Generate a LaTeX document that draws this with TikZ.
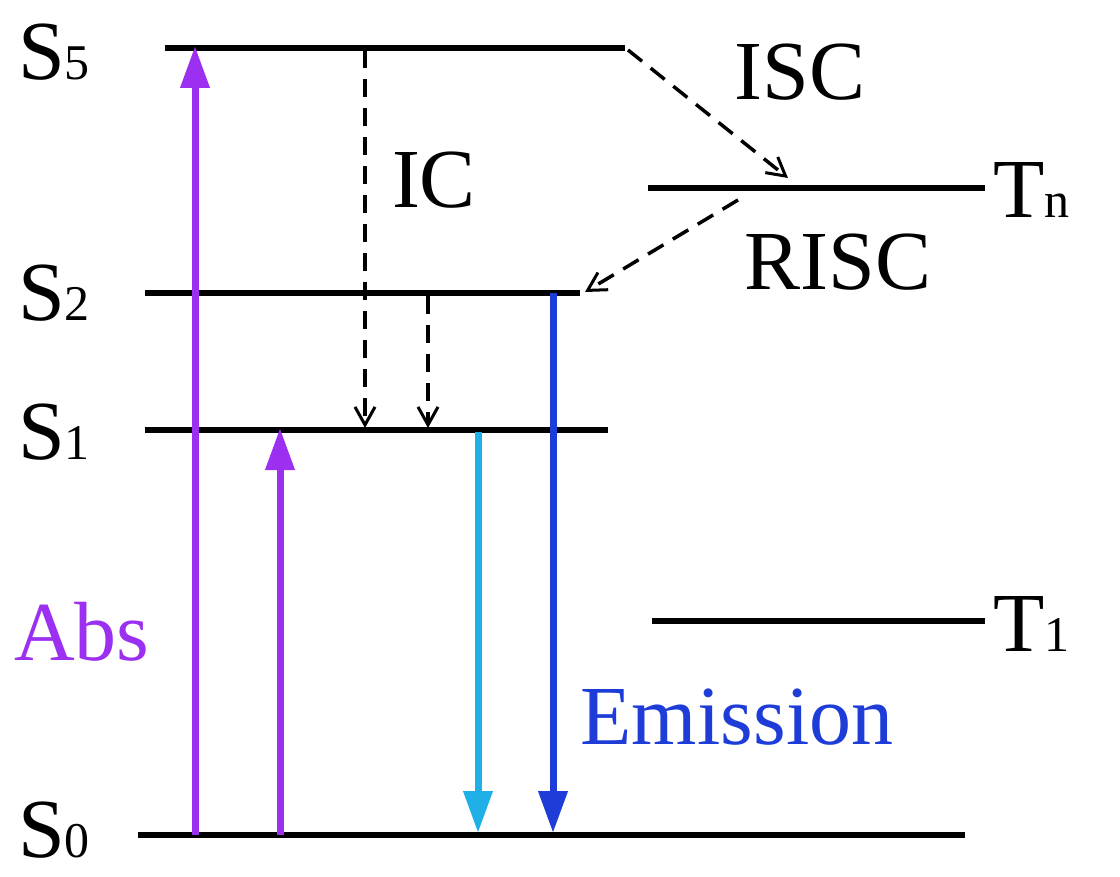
\documentclass[tikz,border=0pt]{standalone}
\usepackage{fontspec}
\setmainfont{Liberation Serif}
\usetikzlibrary{arrows.meta}
\definecolor{absc}{HTML}{9B30F0}
\definecolor{cyanc}{HTML}{1EB0E6}
\definecolor{bluec}{HTML}{1E3CD8}
\tikzset{
  lvl/.style={line width=6pt,black},
  big/.style={font=\fontsize{84}{90}\selectfont,inner sep=0pt},
  solidarr/.style={line width=7pt,-{Triangle[length=42pt,width=28pt]}},
  dasharr/.style={line width=3.5pt,dash pattern=on 18pt off 11pt,-{Straight Barb[length=18pt,width=20pt,line width=3pt]}}
}
\newcommand{\lv}[2]{#1{\fontsize{50}{54}\selectfont #2}}
\begin{document}
\begin{tikzpicture}[x=1pt,y=-1pt]
\useasboundingbox (0,0) rectangle (1120,877);
\coordinate (s5a) at (165,48); \coordinate (s5b) at (625,48);
\coordinate (tna) at (648,188); \coordinate (tnb) at (985,188);
\coordinate (s2a) at (145,293); \coordinate (s2b) at (580,293);
\coordinate (s1a) at (145,430); \coordinate (s1b) at (608,430);
\coordinate (t1a) at (652,621); \coordinate (t1b) at (985,621);
\coordinate (s0a) at (138,835); \coordinate (s0b) at (965,835);
\draw[lvl] (s5a)--(s5b); \draw[lvl] (tna)--(tnb); \draw[lvl] (s2a)--(s2b);
\draw[lvl] (s1a)--(s1b); \draw[lvl] (t1a)--(t1b); \draw[lvl] (s0a)--(s0b);
\node[big,anchor=west] (ls5) at (18,52) {\lv{S}{5}};
\node[big,anchor=west] (ls2) at (18,293) {\lv{S}{2}};
\node[big,anchor=west] (ls1) at (18,432) {\lv{S}{1}};
\node[big,anchor=west] (ls0) at (18,830) {\lv{S}{0}};
\node[big,anchor=west] (ltn) at (993,190) {\lv{T}{n}};
\node[big,anchor=west] (lt1) at (993,624) {\lv{T}{1}};
\node[big] (ic) at (434,180) {IC};
\node[big] (isc) at (800,72) {ISC};
\node[big] (risc) at (838,262) {RISC};
\node[big,text=absc] (abs) at (82,632) {Abs};
\node[big,text=bluec] (em) at (737,717) {Emission};
\coordinate (a1s) at (195,835); \coordinate (a1e) at (195,46);
\coordinate (a2s) at (280,835); \coordinate (a2e) at (280,428);
\coordinate (c1s) at (478,432); \coordinate (c1e) at (478,833);
\coordinate (b1s) at (553,293); \coordinate (b1e) at (553,833);
\draw[solidarr,absc] (a1s)--(a1e);
\draw[solidarr,absc] (a2s)--(a2e);
\draw[solidarr,cyanc] (c1s)--(c1e);
\draw[solidarr,bluec] (b1s)--(b1e);
\coordinate (d1s) at (365,50); \coordinate (d1e) at (365,428);
\coordinate (d2s) at (428,296); \coordinate (d2e) at (428,428);
\coordinate (d3s) at (628,50); \coordinate (d3e) at (788,178);
\coordinate (d4s) at (738,200); \coordinate (d4e) at (585,292);
\draw[dasharr] (d1s)--(d1e);
\draw[dasharr] (d2s)--(d2e);
\draw[dasharr] (d3s)--(d3e);
\draw[dasharr] (d4s)--(d4e);
\end{tikzpicture}
\end{document}
